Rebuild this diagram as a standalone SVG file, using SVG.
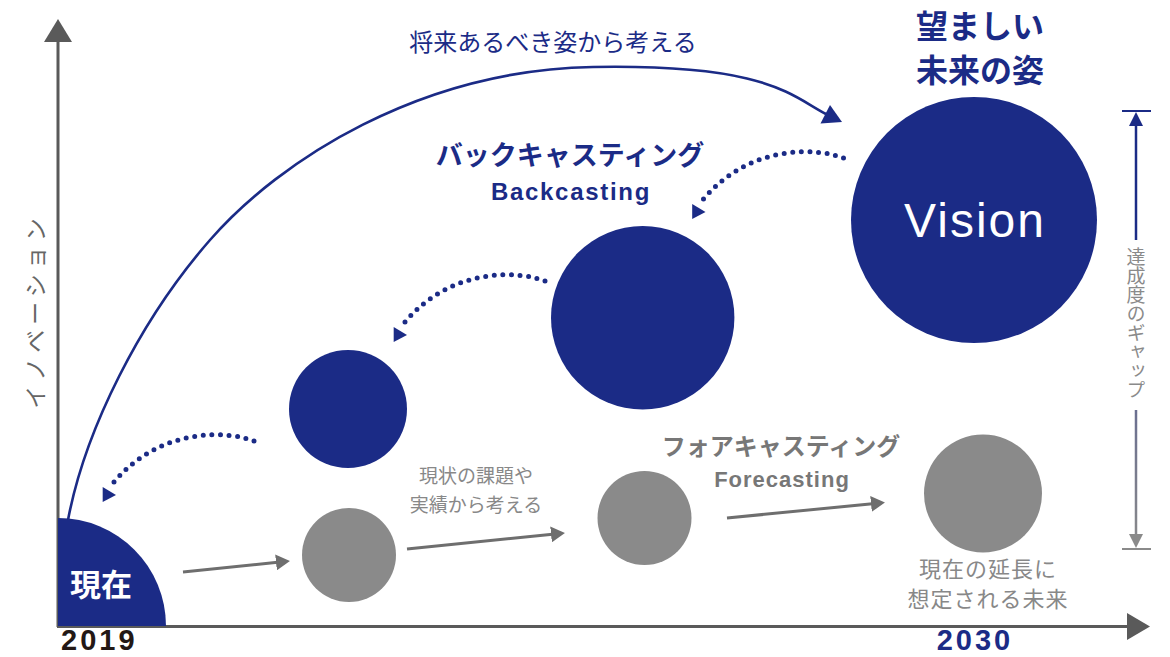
<svg xmlns="http://www.w3.org/2000/svg" width="1170" height="657" viewBox="0 0 1170 657">
  <defs>
    <style>
      .navy { fill: #1b2b86; }
      .gray { fill: #8a8a8a; }
      .jp { font-family: "Noto Sans CJK JP", "Noto Sans", sans-serif; }
      .lat { font-family: "Liberation Sans", Arial, sans-serif; }
      .dots { fill: none; stroke: #1b2b86; stroke-width: 5; stroke-linecap: round; stroke-dasharray: 0 1; }
      .garrow { fill: none; stroke: #6e6e6e; stroke-width: 3; marker-end: url(#gHead); }
      .axis { fill: none; stroke: #5a5a5a; stroke-width: 3; }
    </style>
    <marker id="gHead" viewBox="0 0 14 16" refX="4" refY="8" markerWidth="14" markerHeight="16" markerUnits="userSpaceOnUse" orient="auto">
      <path d="M0,0 L14,8 L0,16 z" fill="#6e6e6e"/>
    </marker>
    <linearGradient id="gapGrad" gradientUnits="userSpaceOnUse" x1="0" y1="111" x2="0" y2="549">
      <stop offset="0" stop-color="#1b2b86"/>
      <stop offset="0.3" stop-color="#1b2b86"/>
      <stop offset="0.7" stop-color="#6d7190"/>
      <stop offset="1" stop-color="#8a8a8a"/>
    </linearGradient>
  </defs>

  <!-- axes -->
  <g id="axes">
    <line class="axis" x1="58" y1="40" x2="58" y2="627"/>
    <polygon points="58,19 44,42 72,42" fill="#5a5a5a"/>
    <line class="axis" x1="57" y1="626.5" x2="1130" y2="626.5"/>
    <polygon points="1150,626.5 1127,613 1127,640" fill="#5a5a5a"/>
    <text class="jp" x="0" y="0" transform="translate(44,311) rotate(-90)" font-size="23" letter-spacing="5" text-anchor="middle" fill="#666">イノベーション</text>
    <text class="lat" x="61" y="650" font-size="29" font-weight="bold" letter-spacing="3" fill="#231815">2019</text>
    <text class="lat" x="975" y="650" font-size="29" font-weight="bold" letter-spacing="3" text-anchor="middle" fill="#1b2b86">2030</text>
  </g>

  <!-- connectors -->
  <g id="connectors">
    <path d="M68,520 C85,430 140,320 210,240 S420,70 593,67 S790,95 826,114" fill="none" stroke="#1b2b86" stroke-width="2.6"/>
    <polygon points="842,122 820.5,123.5 830,105" fill="#1b2b86"/>

    <g id="dotted-3">
      <path class="dots" pathLength="18" d="M254,441 C225,430 160,428 114,482"/>
      <polygon class="navy" points="102.7,487 116,495 102.7,502"/>
    </g>
    <g id="dotted-2" transform="translate(291,-160)">
      <path class="dots" pathLength="18" d="M254,441 C225,430 160,428 114,482"/>
      <polygon class="navy" points="102.7,487 116,495 102.7,502"/>
    </g>
    <g id="dotted-1" transform="translate(589.5,-283)">
      <path class="dots" pathLength="18" d="M254,441 C225,430 160,428 114,482"/>
      <polygon class="navy" points="102.7,487 116,495 102.7,502"/>
    </g>

    <line class="garrow" x1="183" y1="572" x2="280" y2="562"/>
    <line class="garrow" x1="407" y1="549" x2="555" y2="534"/>
    <line class="garrow" x1="727" y1="518" x2="875" y2="503.5"/>
  </g>

  <!-- gap bracket -->
  <g id="gap">
    <line x1="1122" y1="111" x2="1151" y2="111" stroke="#1b2b86" stroke-width="2"/>
    <polygon points="1136,112 1129,126 1143,126" fill="#1b2b86"/>
    <line x1="1136" y1="124" x2="1136" y2="240" stroke="url(#gapGrad)" stroke-width="2.5"/>
    <line x1="1136" y1="410" x2="1136" y2="536" stroke="url(#gapGrad)" stroke-width="2.5"/>
    <polygon points="1136,548 1129,534 1143,534" fill="#8a8a8a"/>
    <line x1="1122" y1="549" x2="1151" y2="549" stroke="#8a8a8a" stroke-width="2"/>
    <text class="jp" x="1136" y="323" font-size="19" text-anchor="middle" fill="#8a8a8a" style="writing-mode: vertical-rl;">達成度のギャップ</text>
  </g>

  <!-- labels -->
  <g id="label-backward">
    <text class="jp" x="553" y="51" font-size="24" text-anchor="middle" fill="#1b2b86">将来あるべき姿から考える</text>
  </g>
  <g id="label-vision-title">
    <text class="jp" x="980" y="38" font-size="32" font-weight="bold" text-anchor="middle" fill="#1b2b86">望ましい</text>
    <text class="jp" x="980" y="82" font-size="32" font-weight="bold" text-anchor="middle" fill="#1b2b86">未来の姿</text>
  </g>
  <g id="label-backcasting">
    <text class="jp" x="570" y="165" font-size="27" font-weight="bold" text-anchor="middle" fill="#1b2b86">バックキャスティング</text>
    <text class="lat" x="571" y="200" font-size="24" font-weight="bold" letter-spacing="1.7" text-anchor="middle" fill="#1b2b86">Backcasting</text>
  </g>
  <g id="label-forecasting">
    <text class="jp" x="781" y="455" font-size="24" font-weight="bold" text-anchor="middle" fill="#777">フォアキャスティング</text>
    <text class="lat" x="782" y="487" font-size="22" font-weight="bold" letter-spacing="1" text-anchor="middle" fill="#777">Forecasting</text>
  </g>
  <g id="label-current-issues">
    <text class="jp" x="476" y="483" font-size="19" text-anchor="middle" fill="#888">現状の課題や</text>
    <text class="jp" x="476" y="512" font-size="19" text-anchor="middle" fill="#888">実績から考える</text>
  </g>
  <g id="label-extension">
    <text class="jp" x="988" y="577" font-size="22" letter-spacing="1" text-anchor="middle" fill="#888">現在の延長に</text>
    <text class="jp" x="988" y="607" font-size="22" letter-spacing="1" text-anchor="middle" fill="#888">想定される未来</text>
  </g>

  <!-- nodes -->
  <g id="node-now">
    <path class="navy" d="M58,626 L58,518 A108,108 0 0 1 166,626 Z"/>
    <text class="jp" x="101" y="596" font-size="31" font-weight="bold" text-anchor="middle" fill="#fff">現在</text>
  </g>
  <g id="node-back-small">
    <circle class="navy" cx="348" cy="409" r="59"/>
  </g>
  <g id="node-back-large">
    <circle class="navy" cx="642.7" cy="317.7" r="91.7"/>
  </g>
  <g id="node-vision">
    <circle class="navy" cx="974" cy="220" r="123"/>
    <text class="lat" x="975" y="237" font-size="48" letter-spacing="2" text-anchor="middle" fill="#fff">Vision</text>
  </g>
  <g id="node-fore-1">
    <circle class="gray" cx="349" cy="555" r="47"/>
  </g>
  <g id="node-fore-2">
    <circle class="gray" cx="644.5" cy="518" r="47"/>
  </g>
  <g id="node-fore-3">
    <circle class="gray" cx="983" cy="493.5" r="59"/>
  </g>
</svg>
